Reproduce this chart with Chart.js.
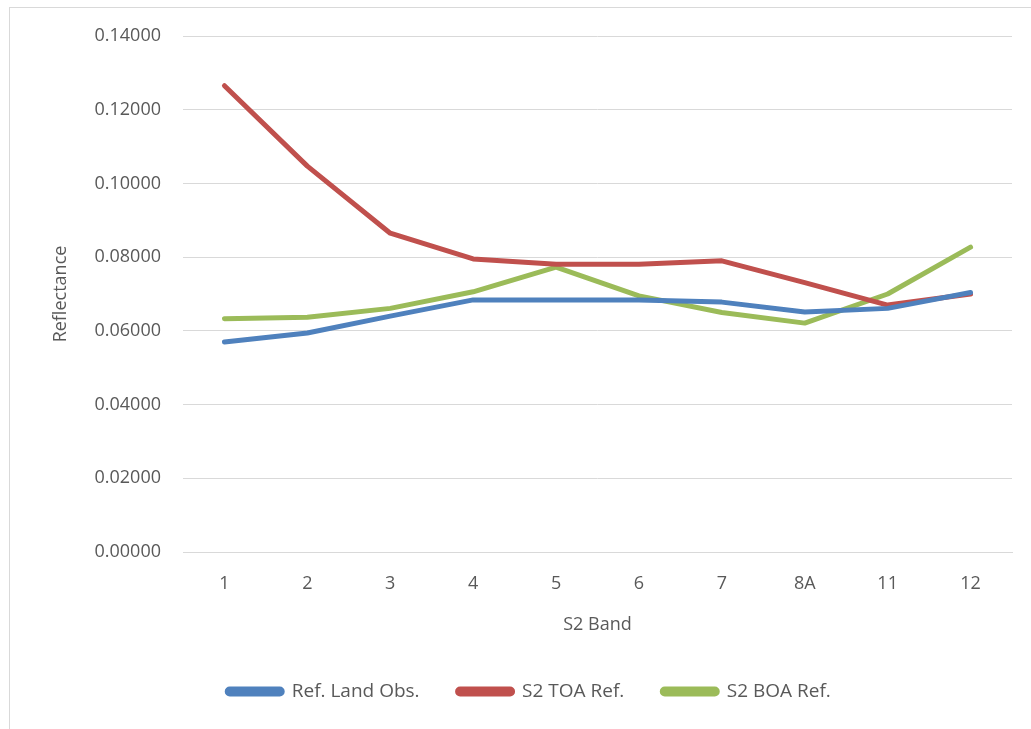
<!DOCTYPE html>
<html>
<head>
<meta charset="utf-8">
<script src="https://cdn.jsdelivr.net/npm/chart.js@4"></script>
<style>
  body { margin: 0; background: #fff; }
  .frame { position: absolute; left: 9px; top: 7px; width: 1030px; height: 730px;
           border-top: 1px solid #d9d9d9; border-left: 1px solid #d9d9d9; }
  #chart { position: absolute; left: 0; top: 0; }
</style>
</head>
<body>
<div class="frame"></div>
<canvas id="chart" width="1031" height="729"></canvas>
<script>
const bands = ["1", "2", "3", "4", "5", "6", "7", "8A", "11", "12"];
const landObs = [0.0570, 0.0594, 0.0640, 0.0684, 0.0684, 0.0684, 0.0678, 0.0651, 0.0661, 0.0704];
const toaRef = [0.1265, 0.1047, 0.0865, 0.0795, 0.0781, 0.0781, 0.0790, 0.0731, 0.0670, 0.0700];
const boaRef = [0.0633, 0.0637, 0.0661, 0.0706, 0.0773, 0.0695, 0.0650, 0.0621, 0.0700, 0.0827];

const textColor = "#595959";
const gridColor = "#d9d9d9";
Chart.defaults.font.family = "'Open Sans', sans-serif";
Chart.defaults.font.size = 18;
Chart.defaults.color = textColor;

const lineSet = (label, data, color) => ({
    label: label,
    data: data,
    borderColor: color,
    backgroundColor: color,
    borderWidth: 5,
    pointRadius: 0,
    borderCapStyle: "round",
    borderJoinStyle: "round",
    tension: 0,
    fill: false,
});

new Chart(document.getElementById("chart"), {
    type: "line",
    data: {
        labels: bands,
        datasets: [
            lineSet("Ref. Land Obs.", landObs, "#4f81bd"),
            lineSet("S2 TOA Ref.", toaRef, "#c0504d"),
            lineSet("S2 BOA Ref.", boaRef, "#9bbb59"),
        ],
    },
    options: {
        responsive: false,
        animation: false,
        layout: { padding: { left: 46, right: 19, top: 36, bottom: 18 } },
        scales: {
            x: {
                offset: true,
                grid: { display: false, drawTicks: false },
                border: { color: gridColor, width: 1 },
                ticks: { padding: 21 },
                title: { display: true, text: "S2 Band", padding: { top: 0, bottom: 8 } },
                afterFit: scale => { scale.height = 92; },
            },
            y: {
                min: 0,
                max: 0.14,
                ticks: {
                    stepSize: 0.02,
                    padding: 22,
                    callback: v => v.toFixed(5),
                },
                grid: { color: gridColor, lineWidth: 1, drawTicks: false },
                border: { display: false },
                title: { display: true, text: "Reflectance" },
                afterFit: scale => { scale.width = 137; },
            },
        },
        plugins: {
            legend: {
                position: "bottom",
                labels: {
                    boxWidth: 55,
                    boxHeight: 5,
                    padding: 38,
                    color: textColor,
                    font: { size: 19 },
                    useBorderRadius: true,
                    borderRadius: 2.5,
                },
            },
            tooltip: { enabled: false },
        },
    },
});
</script>
</body>
</html>
